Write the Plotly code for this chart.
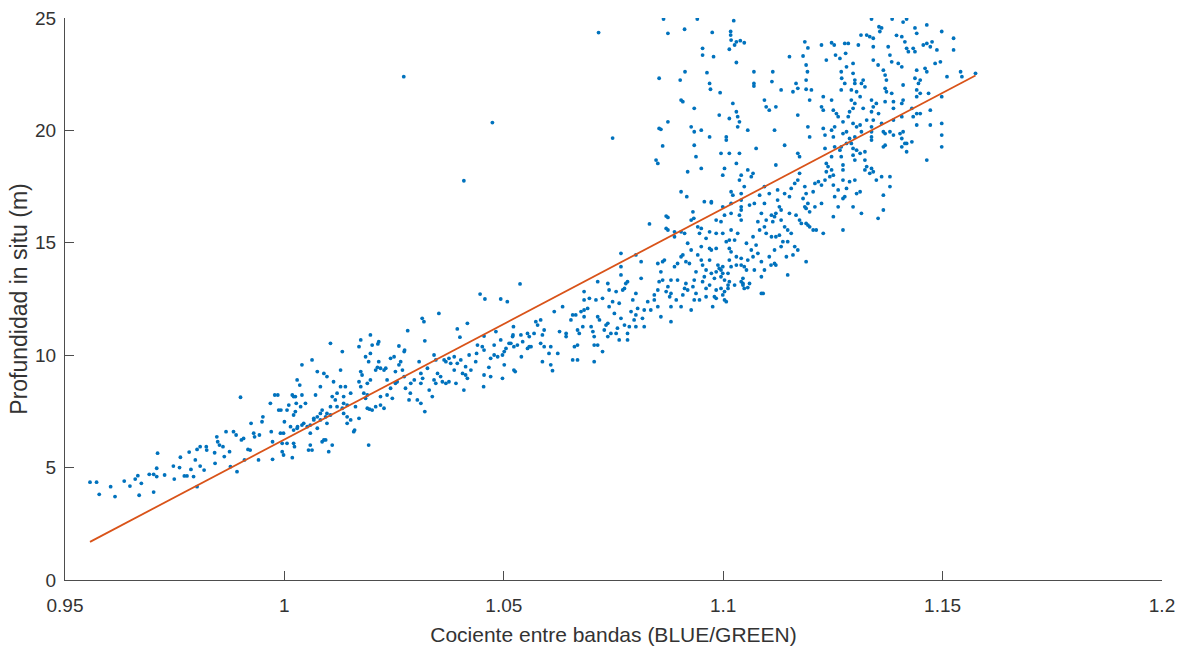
import plotly.graph_objects as go

# Band ratio (BLUE/GREEN) for each sounding
ratio = [
    # shallow end
    0.9557, 0.9572, 0.9578, 0.9604, 0.9614, 0.9635, 0.9648, 0.9660, 0.9666, 0.9674,
    0.9669, 0.9692, 0.9702, 0.9711, 0.9709, 0.9709, 0.9702, 0.9727, 0.9747, 0.9749,
    0.9763, 0.9761, 0.9772, 0.9778, 0.9783, 0.9787, 0.9793, 0.9801, 0.9801, 0.9808,
    0.9797, 0.9808, 0.9817, 0.9822, 0.9823, 0.9841, 0.9842, 0.9846, 0.9848, 0.9852,
    0.9860, 0.9863, 0.9867, 0.9875, 0.9877, 0.9884, 0.9890, 0.9892, 0.9900, 0.9902,
    0.9907, 0.9909, 0.9917, 0.9922, 0.9924, 0.9930, 0.9932, 0.9941, 0.9943, 0.9949,
    0.9951, 0.9968, 0.9970, 0.9973, 0.9973, 0.9978, 0.9985, 0.9987, 0.9992, 0.9991,
    0.9995, 1.0000, 1.0006, 1.0010, 1.0018, 1.0018, 1.0021, 1.0023, 1.0025, 1.0027,
    1.0030, 1.0035, 1.0037, 1.0040, 1.0055,
    1.0135, 1.0158, 1.0192, 1.0143, 1.0170, 1.0189, 1.0200, 1.0219, 1.0120, 1.0097,
    1.0105, 1.0101, 1.0086, 1.0090, 1.0075, 1.0067, 1.0059, 1.0082,
    # 1.00 - 1.06
    1.0537, 1.0446, 1.0457, 1.0493, 1.0508, 1.0352, 1.0314, 1.0318, 1.0281, 1.0320,
    1.0394, 1.0400, 1.0455, 1.0482, 1.0522, 1.0521, 1.0539, 1.0554, 1.0558, 1.0540,
    1.0523, 1.0526, 1.0497, 1.0454, 1.0455, 1.0466, 1.0470, 1.0486, 1.0478, 1.0497,
    1.0501, 1.0451, 1.0455, 1.0440, 1.0436, 1.0425, 1.0413, 1.0417, 1.0406, 1.0402,
    1.0394, 1.0387, 1.0375, 1.0368, 1.0360, 1.0356, 1.0345, 1.0341, 1.0341, 1.0345,
    1.0364, 1.0368, 1.0375, 1.0379, 1.0387, 1.0349, 1.0337, 1.0320, 1.0311, 1.0303,
    1.0311, 1.0315, 1.0311, 1.0296, 1.0288, 1.0287, 1.0284, 1.0276, 1.0273, 1.0269,
    1.0261, 1.0265, 1.0273, 1.0274, 1.0261, 1.0250, 1.0242, 1.0231, 1.0227, 1.0219,
    1.0212, 1.0208, 1.0215, 1.0213, 1.0200, 1.0196, 1.0192, 1.0185, 1.0174, 1.0177,
    1.0170, 1.0174, 1.0181, 1.0189, 1.0185, 1.0194, 1.0208, 1.0219, 1.0227, 1.0234,
    1.0242, 1.0246, 1.0253, 1.0257, 1.0162, 1.0160, 1.0151, 1.0143, 1.0135, 1.0132,
    1.0135, 1.0139, 1.0151, 1.0128, 1.0120, 1.0116, 1.0109, 1.0105, 1.0097, 1.0094,
    1.0086, 1.0082, 1.0075, 1.0067, 1.0059, 1.0052, 1.0044, 1.0029, 1.0021, 1.0014,
    0.9998, 0.9995, 1.0021, 0.9998, 1.0059, 1.0063, 1.0094, 1.0109, 1.0040, 1.0063,
    1.0075, 1.0105, 1.0132, 1.0128, 1.0097, 1.0090, 1.0029, 1.0021, 1.0040, 1.0006,
    1.0025, 1.0048, 1.0071, 1.0082, 1.0112, 1.0170, 1.0174, 1.0196, 1.0215, 1.0234,
    1.0253, 1.0189, 1.0196, 1.0143, 1.0417, 1.0421, 1.0438, 1.0478, 1.0493, 1.0516,
    1.0531, 1.0554, 1.0501, 1.0470, 1.0409, 1.0391, 1.0413, 1.0330, 1.0326, 1.0307,
    # 1.05 - 1.11
    1.0832, 1.0870, 1.0874, 1.0870, 1.0889, 1.0889, 1.0904, 1.0931, 1.0933, 1.0950,
    1.0961, 1.0973, 1.0984, 1.0995, 1.0984, 1.0999, 1.1018, 1.1041, 1.1037, 1.1053,
    1.1041, 1.1041, 1.1045, 1.1060, 1.1026, 1.1018, 1.1014, 1.1018, 1.1011, 1.0999,
    1.1003, 1.1011, 1.0995, 1.0999, 1.1003, 1.0984, 1.0980, 1.0976, 1.0995, 1.0988,
    1.0984, 1.0980, 1.0969, 1.0961, 1.0953, 1.0957, 1.0961, 1.0953, 1.0950, 1.0942,
    1.0938, 1.0934, 1.0931, 1.0938, 1.0946, 1.0934, 1.0927, 1.0919, 1.0915, 1.0912,
    1.0908, 1.0904, 1.0908, 1.0915, 1.0923, 1.0927, 1.0919, 1.0896, 1.0889, 1.0881,
    1.0874, 1.0870, 1.0878, 1.0881, 1.0893, 1.0881, 1.0862, 1.0858, 1.0862, 1.0854,
    1.0851, 1.0843, 1.0843, 1.0851, 1.0858, 1.0835, 1.0828, 1.0820, 1.0816, 1.0820,
    1.0805, 1.0801, 1.0797, 1.0801, 1.0790, 1.0786, 1.0782, 1.0775, 1.0767, 1.0759,
    1.0756, 1.0752, 1.0748, 1.0740, 1.0737, 1.0733, 1.0763, 1.0771, 1.0775, 1.0778,
    1.0767, 1.0767, 1.0767, 1.0782, 1.0801, 1.0813, 1.0813, 1.0801, 1.0794, 1.0737,
    1.0740, 1.0725, 1.0714, 1.0710, 1.0695, 1.0683, 1.0676, 1.0683, 1.0699, 1.0703,
    1.0706, 1.0706, 1.0714, 1.0725, 1.0706, 1.0664, 1.0657, 1.0653, 1.0668, 1.0672,
    1.0680, 1.0668, 1.0661, 1.0668, 1.0657, 1.0642, 1.0642, 1.0627, 1.0623, 1.0607,
    1.0603, 1.0607, 1.0611, 1.0588, 1.0592, 1.0584, 1.0588, 1.0592, 1.0577, 1.0573,
    1.0584, 1.0569, 1.0562, 1.0558, 1.0543, 1.0523, 1.0520, 1.0512, 1.0505, 1.0615,
    1.0634, 1.0683, 1.0691, 1.0714, 1.0718, 1.0729, 1.0744, 1.0737, 1.0763, 1.0782,
    1.0683, 1.0756,
    # 1.08 - 1.13 upper spread
    1.0864, 1.0874, 1.0941, 1.0912, 1.0975, 1.1024, 1.1017, 1.1017, 1.1018, 1.1030,
    1.1039, 1.1048, 1.1026, 1.0953, 1.0953, 1.0978, 1.1014, 1.1030, 1.0854, 1.0902,
    1.0913, 1.0963, 1.0969, 1.0971, 1.0993, 1.1070, 1.1070, 1.1070, 1.1113, 1.1111,
    1.1132, 1.1151, 1.1166, 1.1159, 1.1170, 1.1182, 1.1186, 1.1193, 1.1189, 1.1192,
    1.1189, 1.1189, 1.1201, 1.1197, 1.1224, 1.1235, 1.1247, 1.1253, 1.1256, 1.1266,
    1.1277, 1.1279, 1.1270, 1.1269, 1.1277, 1.1228, 1.1224, 1.1228, 1.1247, 1.1251,
    1.1258, 1.1262, 1.1273, 1.1247, 1.1232, 1.1228, 1.1251, 1.1273, 1.1281, 1.1269,
    1.1281, 1.1232, 1.1235, 1.1239, 1.1235, 1.1247, 1.1251, 1.1243, 1.1232, 1.1217,
    1.1209, 1.1224, 1.1205, 1.1186, 1.1189, 1.1182, 1.1193, 1.1186, 1.1197, 1.1189,
    1.1197, 1.1228, 1.1251, 1.1262, 1.1273, 1.1273, 1.1273, 1.1170, 1.1174, 1.1170,
    1.1163, 1.1155, 1.1140, 1.1151, 1.1124, 1.1124, 1.1128, 1.1120, 1.1117, 1.1113,
    1.1132, 1.1140, 1.1147, 1.1155, 1.1147, 1.1163, 1.1170, 1.1144, 1.1147, 1.1117,
    1.1117, 1.1110, 1.1098, 1.1094, 1.1098, 1.1079, 1.1087, 1.1071, 1.1094, 1.1105,
    1.1094, 1.1083, 1.1064, 1.1068, 1.1056, 1.1041, 1.1037, 1.1041, 1.1048, 1.1018,
    1.1022, 1.1018, 1.1041, 1.1041, 1.1041, 1.1033, 1.1018, 1.1007, 1.1014, 1.1030,
    1.1064, 1.1068, 1.1071, 1.1087, 1.1091, 1.1048, 1.1045, 1.1026, 1.1003, 1.0984,
    1.0973, 1.0969, 1.0969, 1.0984, 1.0950, 1.0946, 1.0942, 1.0927, 1.0912, 1.0904,
    1.0874, 1.0866, 1.0851, 1.0896, 1.0881, 1.0851, 1.0847, 1.0854, 1.0874, 1.0904,
    1.0934, 1.0927, 1.0934, 1.0950, 1.0934, 1.0938, 1.0950, 1.0919, 1.0904, 1.0957,
    1.0973, 1.0969, 1.0991, 1.1007, 1.1007, 1.1014, 1.1033, 1.1037, 1.1033, 1.1030,
    1.1022, 1.0995, 1.1014, 1.1037, 1.1003, 1.0999, 1.1030, 1.1056, 1.1075, 1.1094,
    1.1098, 1.1105, 1.1120, 1.1117, 1.1140, 1.1170, 1.1174, 1.1120,
    # deep end
    1.1338, 1.1385, 1.1418, 1.1410, 1.1361, 1.1355, 1.1357, 1.1314, 1.1327, 1.1334,
    1.1342, 1.1395, 1.1407, 1.1437, 1.1441, 1.1464, 1.1498, 1.1525, 1.1525, 1.1414,
    1.1418, 1.1422, 1.1433, 1.1437, 1.1456, 1.1464, 1.1476, 1.1472, 1.1487, 1.1495,
    1.1483, 1.1510, 1.1541, 1.1544, 1.1575, 1.1376, 1.1380, 1.1384, 1.1399, 1.1407,
    1.1441, 1.1437, 1.1445, 1.1441, 1.1441, 1.1464, 1.1468, 1.1449, 1.1410, 1.1410,
    1.1407, 1.1365, 1.1369, 1.1372, 1.1369, 1.1372, 1.1384, 1.1388, 1.1369, 1.1338,
    1.1342, 1.1338, 1.1342, 1.1338, 1.1338, 1.1338, 1.1338, 1.1327, 1.1319, 1.1312,
    1.1315, 1.1319, 1.1323, 1.1300, 1.1296, 1.1300, 1.1292, 1.1304, 1.1292, 1.1300,
    1.1296, 1.1288, 1.1285, 1.1296, 1.1304, 1.1312, 1.1315, 1.1300, 1.1288, 1.1292,
    1.1296, 1.1304, 1.1296, 1.1300, 1.1312, 1.1323, 1.1323, 1.1327, 1.1323, 1.1338,
    1.1342, 1.1334, 1.1349, 1.1361, 1.1380, 1.1380, 1.1365, 1.1365, 1.1353, 1.1315,
    1.1296, 1.1304, 1.1312, 1.1300, 1.1288, 1.1281, 1.1277, 1.1262, 1.1254, 1.1251,
    1.1247, 1.1254, 1.1266, 1.1269, 1.1273, 1.1273, 1.1361, 1.1365, 1.1369, 1.1369,
    1.1365, 1.1380, 1.1388, 1.1403, 1.1410, 1.1407, 1.1418, 1.1407, 1.1430, 1.1441,
    1.1441, 1.1449, 1.1472, 1.1472, 1.1498, 1.1498, 1.1498, 1.1464, 1.1418, 1.1388,
    1.1388, 1.1407, 1.1354, 1.1349, 1.1254, 1.1193, 1.1197, 1.1285, 1.1308, 1.1296,
    1.1281, 1.1269, 1.1342, 1.1342, 1.1353,
    1.1498, 1.1430, 1.1433, 1.1414, 1.1449, 1.1460,
    # isolated soundings
    1.0272, 1.0474, 1.0409, 1.0716, 1.0748, 1.0908, 1.0858, 1.0862, 1.0917,
    # 1.095 - 1.125 lower band
    1.1189, 1.1159, 1.1132, 1.1136, 1.1120, 1.1105, 1.1109, 1.1094, 1.1087, 1.1079,
    1.1075, 1.1068, 1.1056, 1.1053, 1.1041, 1.1045, 1.1048, 1.1056, 1.1087, 1.1030,
    1.1011, 1.1007, 1.1014, 1.0995, 1.0991, 1.0999, 1.0961, 1.1060, 1.1110, 1.1132,
    1.1151, 1.1166, 1.1174, 1.1178, 1.1189, 1.1193, 1.1209, 1.1224, 1.1212, 1.1205,
    1.1083, 1.1128, 1.1120, 1.0973, 1.0969, 1.0999, 1.1014, 1.1003,
]

# Measured in situ depth (m) for each sounding
depth = [
    4.35, 4.35, 3.81, 4.15, 3.71, 4.40, 4.18, 4.49, 4.64, 4.30,
    3.77, 4.70, 4.70, 5.64, 4.97, 4.60, 3.91, 4.67, 5.07, 4.49,
    5.46, 5.00, 4.63, 4.63, 5.69, 4.92, 4.60, 4.15, 5.81, 5.93,
    5.34, 5.07, 4.89, 5.93, 5.78, 5.66, 5.19, 6.37, 6.15, 6.00,
    5.93, 5.49, 6.60, 5.71, 5.04, 6.60, 6.45, 4.82, 8.13, 6.23,
    6.30, 5.34, 5.81, 5.78, 6.97, 6.53, 6.37, 5.34, 6.45, 7.04,
    7.26, 7.86, 6.60, 6.15, 5.37, 8.23, 8.23, 7.56, 7.56, 6.53,
    5.71, 7.04, 6.08, 7.78, 8.23, 5.44, 7.34, 5.93, 8.16, 7.86,
    6.82, 8.67, 7.71, 6.89, 5.78,
    7.86, 6.60, 6.00, 7.26, 7.19, 7.64, 7.56, 7.78, 7.71, 6.97,
    7.34, 5.71, 6.15, 6.23, 6.75, 7.19, 6.53, 7.41,
    13.17, 12.72, 12.50, 12.50, 12.38, 11.86, 11.64, 11.49, 11.09, 10.64,
    11.17, 10.80, 10.85, 11.05, 11.27, 10.90, 10.90, 10.97, 10.38, 9.93,
    9.34, 9.27, 8.97, 8.60, 9.12, 9.46, 9.86, 9.93, 10.01, 10.01,
    10.16, 10.38, 10.23, 10.45, 9.71, 9.34, 9.12, 8.97, 9.19, 9.79,
    9.64, 9.34, 8.82, 8.75, 8.82, 9.05, 8.75, 8.90, 10.01, 9.79,
    9.79, 9.71, 9.86, 9.64, 9.93, 9.19, 8.16, 7.49, 7.86, 8.01,
    8.75, 8.97, 9.19, 8.90, 8.75, 8.31, 8.01, 8.53, 9.05, 9.34,
    9.57, 9.71, 10.16, 10.23, 10.41, 9.93, 9.86, 9.42, 9.34, 9.42,
    9.46, 9.34, 10.60, 10.50, 10.45, 10.08, 9.71, 9.93, 9.27, 9.12,
    8.82, 8.60, 8.31, 8.23, 8.08, 7.60, 7.71, 8.16, 7.64, 8.23,
    8.53, 8.08, 8.75, 8.82, 7.71, 6.67, 7.12, 6.97, 7.41, 7.64,
    8.16, 8.60, 8.31, 8.60, 8.31, 8.01, 8.16, 7.71, 7.41, 7.26,
    7.56, 7.12, 7.26, 7.12, 6.89, 6.82, 6.97, 6.75, 6.67, 6.82,
    6.53, 6.08, 6.08, 5.56, 6.00, 5.78, 6.23, 6.00, 9.57, 9.79,
    9.27, 10.53, 10.16, 9.34, 9.05, 9.19, 8.90, 8.16, 8.23, 7.56,
    7.49, 7.86, 8.23, 8.60, 8.82, 10.38, 10.68, 10.90, 9.71, 8.90,
    9.27, 8.75, 8.90, 7.78, 11.42, 10.01, 10.08, 10.45, 10.68, 10.53,
    10.45, 10.30, 9.57, 9.05, 8.45, 8.75, 9.49, 8.45, 9.42, 9.71,
    15.84, 16.19, 16.13, 15.64, 15.49, 15.27, 15.49, 16.38, 16.09, 15.64,
    15.20, 16.78, 16.01, 15.94, 15.42, 16.60, 16.31, 16.60, 16.23, 14.98,
    14.31, 14.01, 13.42, 13.19, 15.12, 14.60, 14.23, 13.94, 13.64, 13.64,
    13.34, 13.12, 12.97, 12.68, 12.46, 12.53, 12.60, 12.16, 13.79, 14.01,
    13.71, 13.42, 13.12, 12.97, 13.27, 13.49, 13.79, 14.01, 14.23, 14.46,
    13.71, 13.34, 13.05, 12.75, 12.46, 12.46, 12.01, 12.90, 13.19, 12.97,
    12.68, 12.16, 14.46, 14.16, 14.08, 14.68, 14.98, 14.08, 13.94, 13.34,
    13.05, 12.83, 12.60, 12.16, 12.46, 11.49, 14.16, 13.71, 13.34, 13.27,
    12.90, 12.68, 12.46, 12.16, 11.71, 12.01, 12.38, 12.01, 11.64, 11.27,
    12.08, 11.79, 11.57, 11.27, 11.94, 11.27, 10.97, 11.34, 11.64, 11.20,
    10.97, 11.86, 12.38, 12.16, 11.42, 11.34, 12.31, 12.90, 12.97, 13.19,
    14.53, 13.94, 13.57, 13.27, 14.46, 14.16, 13.42, 12.75, 12.46, 13.19,
    12.90, 12.53, 13.27, 12.46, 12.53, 12.01, 11.94, 11.71, 11.27, 11.05,
    10.83, 10.45, 10.45, 10.16, 9.71, 11.79, 11.79, 11.57, 11.12, 10.97,
    11.27, 10.45, 10.38, 9.79, 9.79, 10.97, 10.83, 11.05, 10.08, 10.38,
    10.08, 9.57, 9.31, 9.71, 10.38, 10.53, 10.90, 11.12, 11.34, 11.49,
    11.57, 10.97, 10.38, 10.83, 10.60, 10.38, 10.83, 10.53, 10.30, 11.94,
    12.16, 12.46, 12.08, 11.71, 11.57, 11.12, 10.97, 10.83, 10.68, 10.68,
    12.83, 12.83,
    24.95, 24.32, 24.95, 24.50, 24.36, 24.88, 24.40, 24.24, 24.02, 23.94,
    23.99, 23.90, 23.80, 23.65, 23.35, 23.28, 23.61, 23.02, 22.32, 22.24,
    22.61, 22.57, 22.09, 21.83, 21.68, 22.61, 22.09, 21.97, 22.61, 22.17,
    21.80, 23.28, 22.09, 21.72, 21.87, 23.31, 23.94, 23.67, 22.91, 22.61,
    22.24, 21.83, 21.80, 21.35, 23.80, 23.13, 23.90, 23.80, 23.35, 23.20,
    23.87, 23.43, 22.32, 21.80, 22.09, 21.50, 21.05, 20.90, 21.35, 20.90,
    20.75, 20.61, 20.38, 20.01, 19.79, 20.09, 19.71, 19.86, 19.94, 19.27,
    19.42, 19.20, 18.53, 18.39, 18.16, 18.24, 18.01, 17.94, 17.79, 17.72,
    17.64, 17.57, 17.27, 17.50, 17.19, 16.97, 16.75, 16.60, 16.38, 15.86,
    15.71, 15.42, 16.16, 17.35, 17.79, 16.97, 15.57, 18.98, 18.83, 17.79,
    17.64, 17.42, 17.19, 17.05, 17.35, 16.90, 16.60, 16.31, 16.16, 15.94,
    16.01, 15.71, 15.57, 15.42, 15.05, 14.83, 14.68, 14.38, 13.57, 14.08,
    14.68, 15.27, 15.42, 15.71, 16.01, 15.94, 16.31, 16.75, 16.75, 17.19,
    17.50, 17.12, 17.94, 18.09, 18.24, 18.01, 17.79, 17.19, 17.50, 17.27,
    17.12, 16.75, 16.90, 16.46, 16.01, 15.42, 15.57, 15.05, 14.75, 14.38,
    14.68, 14.38, 13.79, 13.49, 12.75, 13.94, 13.19, 13.12, 12.83, 12.90,
    13.64, 14.23, 14.75, 14.75, 14.83, 15.42, 15.71, 16.01, 15.42, 14.38,
    15.57, 14.23, 14.08, 13.34, 12.75, 18.53, 18.68, 20.09, 20.38, 21.35,
    20.98, 20.16, 19.94, 20.01, 19.34, 18.83, 18.31, 18.16, 17.27, 16.83,
    16.83, 19.71, 20.68, 19.71, 19.57, 20.53, 20.61, 20.38, 20.16, 20.83,
    21.20, 18.98, 18.98, 18.98, 18.31, 18.01, 18.53, 20.01, 19.20, 21.35,
    21.05, 20.90, 21.05, 20.01, 19.34, 20.68, 18.09, 18.46,
    24.95, 24.95, 24.95, 24.82, 24.56, 24.61, 24.40, 24.24, 24.24, 24.17,
    24.10, 24.23, 24.17, 24.56, 24.32, 24.69, 24.40, 24.10, 23.58, 23.94,
    23.65, 23.50, 23.65, 23.50, 23.80, 23.87, 23.94, 23.72, 23.58, 23.05,
    22.98, 22.39, 22.61, 22.39, 22.54, 23.72, 23.35, 23.05, 22.98, 22.83,
    22.68, 22.32, 22.09, 21.80, 21.50, 22.61, 21.65, 22.24, 22.02, 21.35,
    21.20, 22.68, 22.46, 22.24, 21.87, 21.72, 21.65, 21.28, 21.28, 21.35,
    21.05, 20.83, 20.46, 20.16, 19.94, 19.71, 19.57, 20.46, 20.98, 21.50,
    22.09, 22.24, 21.94, 22.24, 22.54, 22.09, 21.80, 21.72, 21.35, 21.20,
    20.98, 20.83, 20.61, 20.31, 20.16, 20.24, 19.94, 19.71, 19.64, 19.42,
    19.20, 19.12, 18.90, 18.68, 18.98, 19.05, 18.68, 18.39, 18.24, 18.31,
    18.16, 18.09, 17.79, 17.94, 17.94, 17.50, 17.12, 16.46, 16.09, 16.31,
    16.60, 17.19, 17.27, 17.79, 17.72, 17.42, 17.05, 16.60, 17.05, 17.57,
    18.83, 19.27, 19.12, 18.83, 18.46, 18.24, 20.31, 19.94, 19.86, 19.34,
    19.27, 19.94, 19.79, 19.86, 19.94, 19.64, 19.42, 19.27, 19.49, 20.24,
    20.75, 20.75, 20.24, 20.90, 20.31, 19.79, 19.27, 18.68, 19.05, 20.46,
    20.98, 20.61, 20.75, 21.20, 20.16, 20.16, 19.71, 23.87, 23.80, 22.98,
    22.83, 22.61, 23.72, 23.13, 22.91,
    21.50, 20.98, 20.61, 19.42, 21.65, 22.76,
    22.39, 20.35, 17.76, 24.35, 19.66, 21.28, 20.05, 19.31, 17.05,
    14.16, 14.46, 14.83, 15.05, 14.01, 14.38, 14.01, 13.79, 14.16, 14.53,
    14.90, 15.27, 14.23, 13.79, 13.27, 13.12, 12.97, 13.01, 12.75, 14.01,
    12.97, 12.38, 13.27, 13.49, 13.86, 13.94, 12.60, 16.68, 16.23, 16.46,
    16.31, 16.23, 16.01, 15.86, 16.53, 15.79, 16.60, 16.75, 15.57, 15.57,
    15.57, 15.34, 15.27, 14.68, 15.49, 15.42, 15.12, 16.23,
]

# Least-squares line depth = slope * ratio + intercept
fit_slope = 102.8
fit_intercept = -96.55

x_ticks = [0.95, 1.0, 1.05, 1.1, 1.15, 1.2]
x_tick_text = ["0.95", "1", "1.05", "1.1", "1.15", "1.2"]
y_ticks = [0, 5, 10, 15, 20, 25]
y_tick_text = ["0", "5", "10", "15", "20", "25"]

x_label = "Cociente entre bandas (BLUE/GREEN)"
y_label = "Profundidad in situ (m)"

fit_x = [min(ratio), max(ratio)]
fit_y = [fit_slope * v + fit_intercept for v in fit_x]

fig = go.Figure()
fig.add_trace(go.Scatter(
    x=ratio, y=depth, mode="markers",
    marker=dict(color="#0072BD", size=3.8, line=dict(width=0)),
    showlegend=False, hoverinfo="x+y",
))
fig.add_trace(go.Scatter(
    x=fit_x, y=fit_y, mode="lines",
    line=dict(color="#D95319", width=1.8),
    showlegend=False, hoverinfo="skip",
))

axis_font = dict(family="Liberation Sans, Arial, sans-serif", size=19, color="#333333")
axis_common = dict(
    showline=True, linecolor="#4d4d4d", linewidth=1,
    ticks="inside", ticklen=9, tickwidth=1, tickcolor="#4d4d4d",
    showgrid=False, zeroline=False, mirror=False,
    tickfont=axis_font,
)

fig.update_layout(
    width=1183, height=653,
    margin=dict(l=65, r=21, t=18, b=73),
    paper_bgcolor="white", plot_bgcolor="white",
    xaxis=dict(
        range=[0.95, 1.2], tickvals=x_ticks, ticktext=x_tick_text,
        ticklabelstandoff=8,
        title=dict(text=x_label, standoff=12,
                   font=dict(family="Liberation Sans, Arial, sans-serif", size=21, color="#333333")),
        automargin=False,
        **axis_common,
    ),
    yaxis=dict(
        range=[0, 25], tickvals=y_ticks, ticktext=y_tick_text,
        ticklabelstandoff=4,
        title=dict(text=y_label, standoff=1,
                   font=dict(family="Liberation Sans, Arial, sans-serif", size=23, color="#333333")),
        automargin=False,
        **axis_common,
    ),
)

fig.write_html("out.html")
